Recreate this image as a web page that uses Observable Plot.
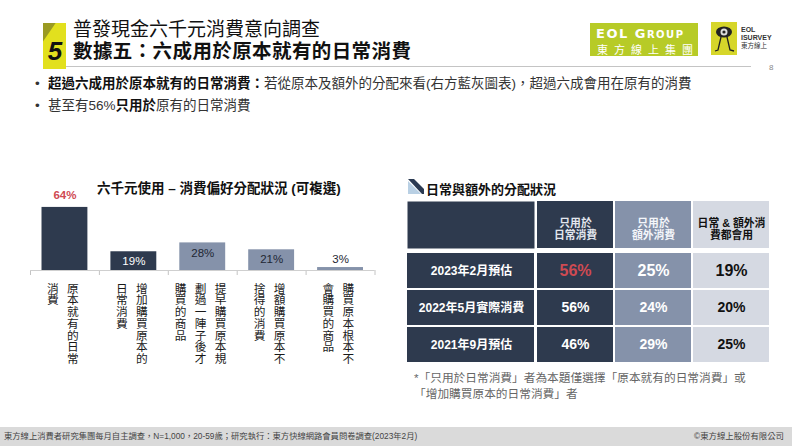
<!DOCTYPE html>
<html><head><meta charset="utf-8">
<script src="https://cdn.jsdelivr.net/npm/d3@7"></script>
<script src="https://cdn.jsdelivr.net/npm/@observablehq/plot@0.6"></script>
<style>
body{margin:0;width:792px;height:446px;position:relative;overflow:hidden;background:#fff;font-family:"Liberation Sans",Arial,"Noto Sans CJK TC",sans-serif;color:#222;}
.abs{position:absolute;white-space:nowrap;}
</style></head><body>
<!-- header -->
<div class="abs" style="left:43px;top:23px;width:23px;height:46px;background:#e2e01e;"></div>
<div class="abs" style="left:43px;top:23px;width:23px;height:46px;background:#9a9a22;clip-path:polygon(0 0,55% 0,0 40%);"></div>
<div class="abs" style="left:44px;top:38px;width:22px;text-align:center;font:italic bold 26px 'Liberation Sans',Arial;line-height:26px;color:#111;">5</div>
<div class="abs" style="left:73px;top:20px;font-size:19px;line-height:20px;color:#111;">普發現金六千元消費意向調查</div>
<div class="abs" style="left:73px;top:41px;font-size:19.5px;line-height:20px;font-weight:bold;color:#111;letter-spacing:0.4px;">數據五：六成用於原本就有的日常消費</div>
<div class="abs" style="left:66px;top:66px;width:685px;height:1px;background:#c4c4c4;"></div>
<div class="abs" style="left:769px;top:63px;font-size:8px;color:#888;">8</div>
<!-- logos -->
<div class="abs" style="left:590px;top:23px;width:108px;height:33px;background:#b7cb27;color:#fff;">
  <div class="abs" style="left:6px;top:3px;font:bold 13px 'DejaVu Sans';letter-spacing:1.5px;">EOL G<span style="font-size:10px">ROUP</span></div>
  <div class="abs" style="left:7px;top:18px;font-size:11px;letter-spacing:6px;">東方線上集團</div>
</div>
<svg class="abs" style="left:711px;top:22px;" width="80" height="34">
  <rect x="0" y="0" width="26" height="33" fill="#d6d62a"/>
  <ellipse cx="13" cy="10" rx="8" ry="5.5" fill="#222"/>
  <circle cx="13" cy="10" r="3.5" fill="#ddd"/><circle cx="13" cy="10" r="1.6" fill="#222"/>
  <path d="M10 15 L7 28 L4 29 M16 15 L19 28 L23 29" stroke="#222" stroke-width="1.3" fill="none"/>
  <text x="30" y="10" font-size="7" font-weight="bold" fill="#333" font-family="Liberation Sans">EOL</text>
  <text x="30" y="18" font-size="7" font-weight="bold" fill="#333" font-family="Liberation Sans">ISURVEY</text>
  <text x="30" y="26" font-size="6.5" fill="#333">東方線上</text>
</svg>
<!-- bullets -->
<div class="abs" style="left:35px;top:76px;font-size:13.5px;line-height:16px;color:#333;">•</div>
<div class="abs" style="left:48px;top:76px;font-size:13.5px;line-height:16px;color:#333;"><b style="color:#111">超過六成用於原本就有的日常消費：</b>若從原本及額外的分配來看(右方藍灰圖表)，超過六成會用在原有的消費</div>
<div class="abs" style="left:35px;top:98px;font-size:13.5px;line-height:16px;color:#333;">•</div>
<div class="abs" style="left:48px;top:98px;font-size:13.5px;line-height:16px;color:#333;">甚至有56%<b style="color:#111">只用於</b>原有的日常消費</div>
<!-- chart titles -->
<div class="abs" style="left:97px;top:181px;font-size:13.5px;line-height:16px;font-weight:bold;color:#111;">六千元使用 – 消費偏好分配狀況 (可複選)</div>
<svg class="abs" style="left:408px;top:179px;" width="16" height="15">
  <polygon points="0,2 0,15 13,15" fill="#b9d0e4"/>
  <polygon points="0,0 6,0 16,10 16,15 14,15" fill="#2b3a52"/>
</svg>
<div class="abs" style="left:426px;top:182px;font-size:13px;line-height:16px;font-weight:bold;color:#111;">日常與額外的分配狀況</div>
<div id="bars" class="abs" style="left:0px;top:160px;"></div>
<div id="table" class="abs" style="left:407px;top:201px;"></div>
<div class="abs" style="left:414px;top:370px;font-size:11.7px;line-height:15.5px;color:#666;">*「只用於日常消費」者為本題僅選擇「原本就有的日常消費」或<br>「增加購買原本的日常消費」者</div>
<!-- footer -->
<div class="abs" style="left:0;top:427px;width:792px;height:19px;background:#dadada;"></div>
<div class="abs" style="left:4px;top:431px;font-size:8.3px;line-height:11px;color:#444;">東方線上消費者研究集團每月自主調查，N=1,000，20-59歲；研究執行：東方快線網路會員問卷調查(2023年2月)</div>
<div class="abs" style="right:8px;top:431px;font-size:8.4px;line-height:11px;color:#444;">©東方線上股份有限公司</div>
<script>
// ---- data ----
const barCategories = ["原本就有的日常消費","增加購買原本的日常消費","提早購買原本規劃過一陣子後才購買的商品","增額購買原本不捨得的消費","購買原本根本不會購買的商品"];
const barValues = [64, 19, 28, 21, 3];
const barGroups = ["日常","日常","額外","額外","額外"];
const tableRows = ["2023年2月預估","2022年5月實際消費","2021年9月預估"];
const tableColumns = ["只用於\n日常消費","只用於\n額外消費","日常 & 額外消\n費都會用"];
const onlyDaily = [56, 56, 46];
const onlyExtra = [25, 24, 29];
const bothUsed = [19, 20, 25];

// ---- styles ----
const NAVY = "#2e3a4e", STEEL = "#8592aa", LIGHT = "#d5d9e2", RED = "#cf4a52";
const FONT = "'Liberation Sans', Arial, 'Noto Sans CJK TC', sans-serif";

// ---- bar chart ----
const bars = barCategories.map((c, i) => ({i, c, v: barValues[i], g: barGroups[i]}));
const groupFill = {"日常": NAVY, "額外": STEEL};
const colChars = 7, colGap = 20 / 69;
const labelCols = bars.flatMap(b => {
  const chunks = [];
  for (let s = 0; s < b.c.length; s += colChars) chunks.push(b.c.slice(s, s + colChars));
  const n = chunks.length;
  return chunks.map((t, k) => ({i: b.i, t, off: ((n - 1) / 2 - k) * colGap - 0.045}));
});
const labelTexts = new Set(labelCols.map(d => d.t));
const insideFill = d => d.g === "日常" ? "#ffffff" : "#1e2633";

const chart = Plot.plot({
  width: 400, height: 240,
  marginLeft: 30, marginRight: 25.5, marginTop: 41, marginBottom: 130,
  x: {type: "linear", domain: [-0.5, 4.5], ticks: d3.range(-0.5, 5, 1), tickFormat: () => "", tickSize: 5, label: null},
  y: {domain: [0, 70], axis: null},
  color: {type: "identity"},
  style: {fontFamily: FONT, color: "#c4c4c4", background: "transparent", overflow: "visible"},
  marks: [
    Plot.rectY(bars, {x1: d => d.i - 0.333, x2: d => d.i + 0.333, y: "v", fill: d => groupFill[d.g]}),
    Plot.ruleY([0], {stroke: "#cfcfcf"}),
    Plot.text(bars.filter(d => d.i === 0), {x: "i", y: "v", text: d => d.v + "%", dy: -12, fill: RED, fontSize: 11.5, fontWeight: "bold"}),
    Plot.text(bars.filter(d => d.i > 0 && d.v >= 10), {x: "i", y: "v", text: d => d.v + "%", dy: 10, fill: insideFill, fontSize: 11.5}),
    Plot.text(bars.filter(d => d.i > 0 && d.v < 10), {x: "i", y: "v", text: d => d.v + "%", dy: -8, fill: "#1e2633", fontSize: 11.5}),
    Plot.text(labelCols, {x: d => d.i + d.off, text: "t", frameAnchor: "bottom", dy: 12, textAnchor: "start", fill: "#1a1a1a", fontSize: 11.7})
  ]
});
chart.querySelectorAll("text").forEach(t => {
  if (!labelTexts.has(t.textContent)) return;
  t.removeAttribute("y");
  t.setAttribute("writing-mode", "tb");
  t.style.writingMode = "vertical-rl";
  t.style.textOrientation = "upright";
});
document.getElementById("bars").appendChild(chart);

// ---- table ----
const tableCells = tableRows.flatMap((r, ri) => [
  {r, ri, c: tableColumns[0], ci: 0, v: onlyDaily[ri]},
  {r, ri, c: tableColumns[1], ci: 1, v: onlyExtra[ri]},
  {r, ri, c: tableColumns[2], ci: 2, v: bothUsed[ri]}
]);
const colFill = [NAVY, STEEL, LIGHT];
const headText = ["#e3e7ee", "#f4f6fa", "#111111"];
const valText = d => d.ci === 0 ? (d.ri === 0 ? RED : "#ffffff") : d.ci === 1 ? "#ffffff" : "#111111";

const TW = 364, TH = 162, ML = 128, MT = 51;
const frameW = TW - ML, frameH = TH - MT;
const table = Plot.plot({
  width: TW, height: TH,
  marginLeft: ML, marginTop: MT, marginRight: 0, marginBottom: 0,
  x: {domain: tableColumns, axis: null, padding: 0},
  y: {domain: tableRows, axis: null, padding: 0},
  color: {type: "identity"},
  style: {fontFamily: FONT, background: "transparent", overflow: "visible"},
  marks: [
    Plot.frame({fill: NAVY, stroke: "none", insetLeft: -ML, insetRight: frameW + 1, insetTop: -MT, insetBottom: frameH + 4}),
    Plot.cell(tableColumns, {x: d => d, fill: (d, i) => colFill[i], insetLeft: 1, insetRight: 1, insetTop: -MT, insetBottom: frameH + 4}),
    Plot.cell(tableRows, {y: d => d, fill: NAVY, insetLeft: -ML, insetRight: frameW + 1, insetTop: 1, insetBottom: 1}),
    Plot.cell(tableCells, {x: "c", y: "r", fill: d => colFill[d.ci], insetLeft: 1, insetRight: 1, insetTop: 1, insetBottom: 1}),
    Plot.text(tableColumns, {x: d => d, text: d => d, frameAnchor: "top", dy: -34, fill: (d, i) => headText[i], fontSize: 10.8, fontWeight: "bold", lineHeight: 1.1}),
    Plot.text(tableRows, {y: d => d, text: d => d, frameAnchor: "left", dx: -64, textAnchor: "middle", fill: "#ffffff", fontSize: 12, fontWeight: "bold"}),
    Plot.text(tableCells.filter(d => d.ri === 0), {x: "c", y: "r", text: d => d.v + "%", fill: valText, fontSize: 16, fontWeight: "bold"}),
    Plot.text(tableCells.filter(d => d.ri > 0), {x: "c", y: "r", text: d => d.v + "%", fill: valText, fontSize: 14, fontWeight: "bold"})
  ]
});
document.getElementById("table").appendChild(table);
</script>
</body></html>
